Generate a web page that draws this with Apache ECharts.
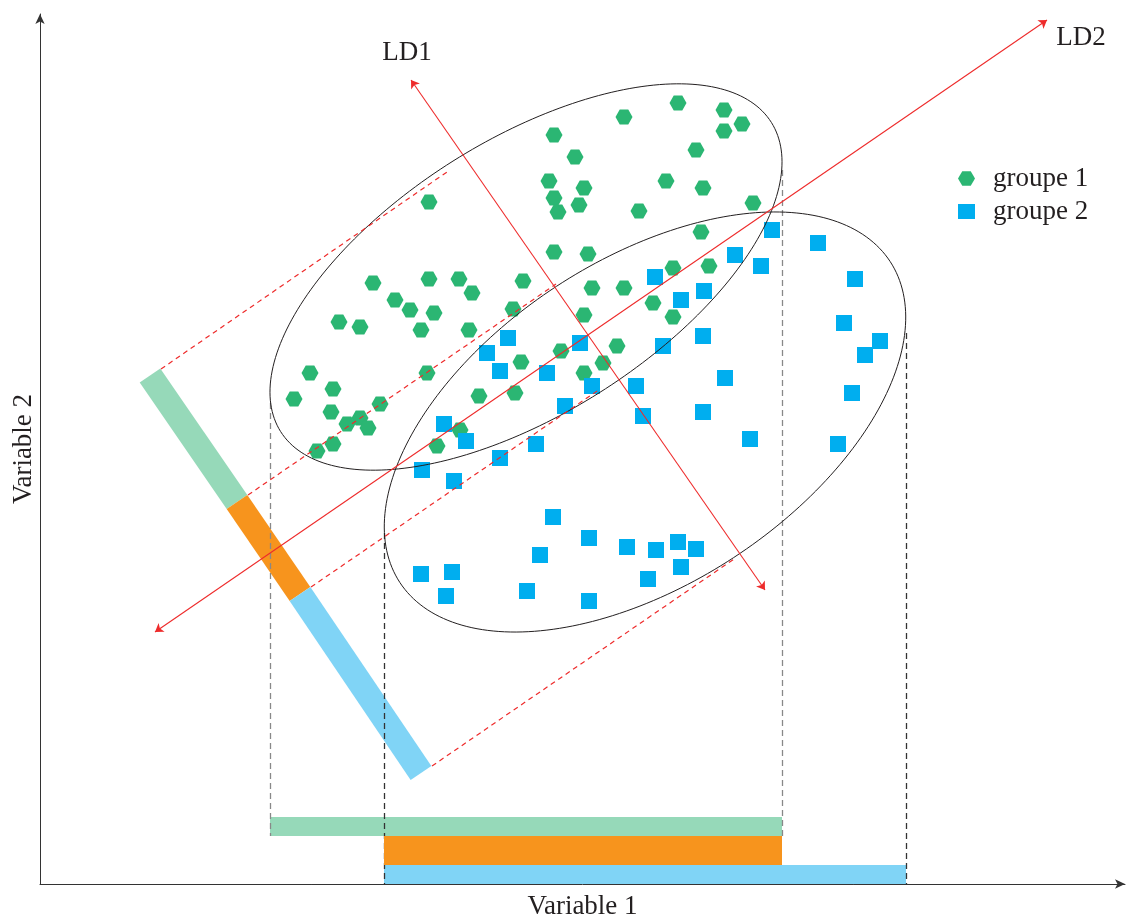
<!DOCTYPE html>
<html><head><meta charset="utf-8">
<script src="https://cdn.jsdelivr.net/npm/echarts@6/dist/echarts.min.js"></script>
<style>html,body{margin:0;padding:0;background:#fff}#c{width:1129px;height:918px}</style>
</head><body><div id="c"></div>
<script>
// Data units: Variable 1 (x) and Variable 2 (y)
const group1 = [[638,781],[584,767],[684,774],[684,753],[702,760],[514,749],[535,727],[656,734],[509,703],[544,696],[626,703],[663,696],[514,686],[539,679],[518,672],[599,673],[713,681],[389,682],[661,652],[514,632],[548,630],[633,616],[669,618],[333,601],[389,605],[419,605],[483,603],[432,591],[552,596],[584,596],[355,584],[370,574],[394,571],[613,581],[473,575],[299,562],[320,557],[381,554],[429,554],[633,567],[544,569],[577,538],[521,533],[481,522],[563,521],[270,511],[387,511],[544,511],[293,495],[254,485],[340,480],[291,472],[475,491],[439,488],[320,466],[307,460],[328,456],[420,454],[293,440],[397,438],[277,433]];
const group2 = [[732,654],[778,641],[695,629],[721,618],[815,605],[615,607],[664,593],[641,584],[468,546],[447,531],[540,541],[460,513],[507,511],[552,498],[596,498],[525,478],[623,538],[663,548],[804,561],[840,543],[825,529],[685,506],[812,491],[603,468],[663,472],[710,445],[798,440],[404,460],[426,443],[496,440],[460,426],[382,414],[414,403],[513,367],[549,346],[500,329],[587,337],[616,334],[638,342],[656,335],[641,317],[608,305],[381,310],[412,312],[406,288],[487,293],[549,283]];
// ellipses: centre x, centre y, semi-major, semi-minor, angle (deg)
const ellipses = [[486,607,290,137,32.2],[605,462,293,162,33.2]];
const ld1Line = [[371,804],[725,294]];
const ld2Line = [[115,252],[1007,864]];
const ldLabels = [[367,831,'LD1'],[1041,846,'LD2']];
// projection band on LD1: stops along the band
const bandStops = [[110,508.5],[197,382],[260,290],[381,111]];
// projection lines (parallel to LD2)
const projLines = [[[121,515],[407,712]],[[208,389],[516,600]],[[271,297],[560,495]],[[392,118],[694,325]]];
// vertical extents: x, top y, bottom y
const vLines = [[230,481,48],[742,714,48],[344,351,0],[866,551,0]];
// projection bars on Variable 1: x0, x1, y0, y1
const spanBars = [[230,742,48,67],[344,866,0,19],[344,742,19,48]];

const GRID = {left:40, right:4, top:14, bottom:34};
const XMAX = 1129 - GRID.left - GRID.right;
const YMAX = 918 - GRID.top - GRID.bottom;
const FONT = 'Liberation Serif';
const TXT = '#231f20';
const RED = '#ee2b2b';
const cGreen = '#2bb673', cBlue = '#00aeef';
const bandColors = ['#96d9b9','#f7941d','#80d4f6'];
const barColors = ['#96d9b9','#80d4f6','#f7941d'];
const vColors = ['#888','#888','#333','#333'];
const hexPath = 'path://M0,43 L25,0 L75,0 L100,43 L75,86 L25,86 Z';

const chart = echarts.init(document.getElementById('c'), null, {renderer:'canvas'});
const axisCommon = {
  type:'value', axisTick:{show:false}, axisLabel:{show:false}, splitLine:{show:false},
  axisLine:{show:true, symbol:['none','arrow'], symbolSize:[7,10], lineStyle:{color:'#333', width:1}},
  nameLocation:'middle', nameTextStyle:{fontFamily:FONT, fontSize:27, color:TXT}
};
chart.setOption({
  animation:false,
  backgroundColor:'#fff',
  grid:Object.assign({containLabel:false, outerBoundsMode:'none'}, GRID),
  xAxis:Object.assign({}, axisCommon, {min:0, max:XMAX, name:'Variable 1', nameGap:9}),
  yAxis:Object.assign({}, axisCommon, {min:0, max:YMAX, name:'Variable 2', nameGap:3}),
  legend:{
    orient:'vertical', left:953, top:160, itemWidth:17, itemHeight:15, itemGap:6,
    data:['groupe 1','groupe 2'],
    textStyle:{fontFamily:FONT, fontSize:27, color:TXT, lineHeight:27, padding:[0,0,0,13]}
  },
  series:[
    {type:'custom', name:'bars', silent:true, clip:false, z:1,
     data:spanBars.map((b,i)=>[b[0],b[1],b[2],b[3],i]),
     renderItem:(p,api)=>{
       const a=api.coord([api.value(0),api.value(3)]), b=api.coord([api.value(1),api.value(2)]);
       return {type:'rect', shape:{x:a[0],y:a[1],width:b[0]-a[0],height:b[1]-a[1]}, style:{fill:barColors[api.value(4)]}};
     }},
    {type:'custom', name:'band', silent:true, clip:false, z:1,
     data:bandStops.slice(0,-1).map((s,i)=>[s[0],s[1],bandStops[i+1][0],bandStops[i+1][1],i]),
     renderItem:(p,api)=>{
       const a=api.coord([api.value(0),api.value(1)]), b=api.coord([api.value(2),api.value(3)]);
       return {type:'line', shape:{x1:a[0],y1:a[1],x2:b[0],y2:b[1]}, style:{stroke:bandColors[api.value(4)], lineWidth:25, lineCap:'butt'}};
     }},
    {type:'lines', name:'vlines', coordinateSystem:'cartesian2d', silent:true, z:2,
     data:vLines.map((v,i)=>({coords:[[v[0],v[1]],[v[0],v[2]]], lineStyle:{color:vColors[i]}})),
     lineStyle:{width:1.3, type:[6,4], opacity:1}, symbol:'none'},
    {type:'custom', name:'orange', silent:true, clip:false, z:3,
     data:[spanBars[2]],
     renderItem:(p,api)=>{
       const a=api.coord([api.value(0),api.value(3)]), b=api.coord([api.value(1),api.value(2)]);
       return {type:'rect', shape:{x:a[0],y:a[1],width:b[0]-a[0],height:b[1]-a[1]}, style:{fill:barColors[2]}};
     }},
    {type:'scatter', name:'groupe 1', data:group1, symbol:hexPath, symbolSize:[17,15], itemStyle:{color:cGreen, opacity:1}, z:4},
    {type:'scatter', name:'groupe 2', data:group2, symbol:'rect', symbolSize:16, itemStyle:{color:cBlue, opacity:1}, z:4},
    {type:'custom', name:'ellipses', silent:true, clip:false, z:5,
     data:ellipses,
     renderItem:(p,api)=>{
       const cx=api.value(0), cy=api.value(1), a=api.value(2), b=api.value(3), g=api.value(4)*Math.PI/180;
       const pts=[];
       for(let i=0;i<=240;i++){
         const t=i/240*2*Math.PI, x=a*Math.cos(t), y=b*Math.sin(t);
         pts.push(api.coord([cx + x*Math.cos(g) - y*Math.sin(g), cy + x*Math.sin(g) + y*Math.cos(g)]));
       }
       return {type:'polyline', shape:{points:pts}, style:{fill:null, stroke:'#231f20', lineWidth:1}};
     }},
    {type:'lines', name:'proj', coordinateSystem:'cartesian2d', silent:true, z:6,
     data:projLines.map(c=>({coords:c})),
     lineStyle:{color:RED, width:1.2, type:[5,4], opacity:1}, symbol:'none'},
    {type:'lines', name:'ld', coordinateSystem:'cartesian2d', silent:true, z:7,
     data:[{coords:ld1Line},{coords:ld2Line}],
     lineStyle:{color:RED, width:1.1, opacity:1}, symbol:['arrow','arrow'], symbolSize:8},
    {type:'scatter', name:'ldlabels', silent:true, z:8, data:ldLabels, symbolSize:0, itemStyle:{opacity:1},
     label:{show:true, position:'inside', formatter:p=>p.value[2], fontFamily:FONT, fontSize:27, color:TXT, opacity:1}}
  ]
});
</script></body></html>
